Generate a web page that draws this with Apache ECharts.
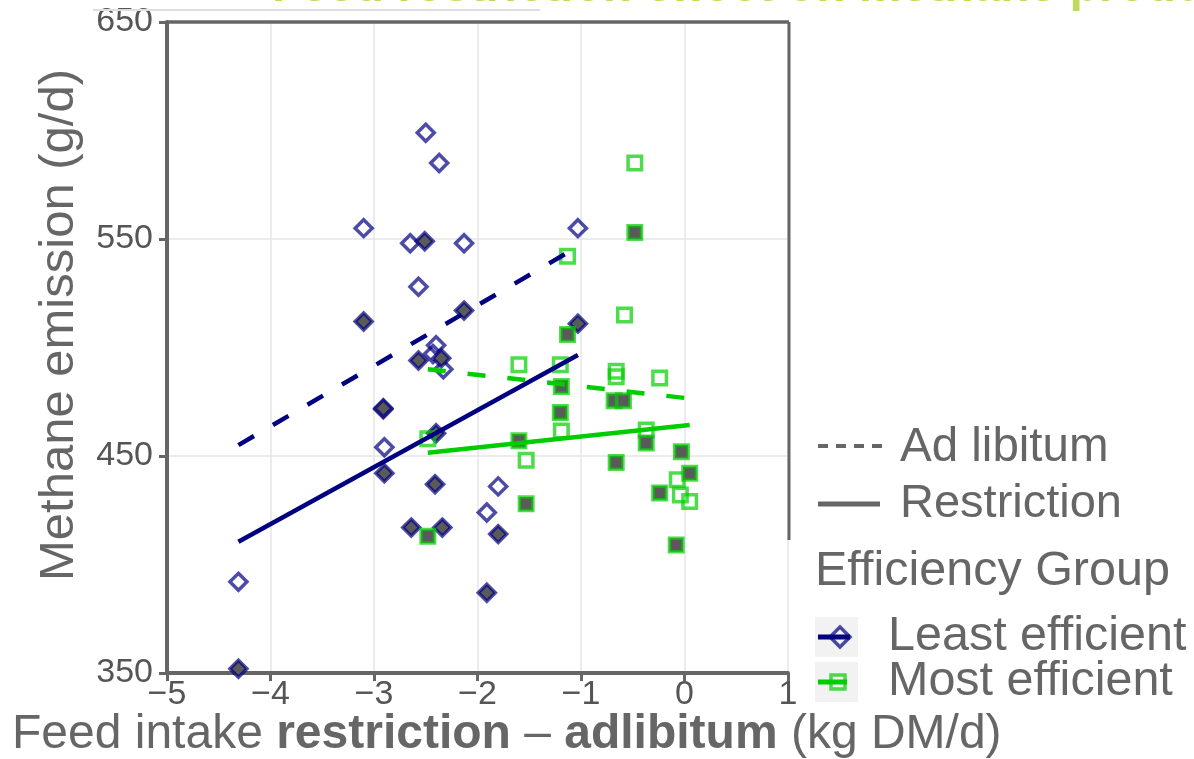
<!DOCTYPE html>
<html>
<head>
<meta charset="utf-8">
<title>Methane emission vs feed intake difference</title>
<script src="https://cdn.jsdelivr.net/npm/echarts@6/dist/echarts.min.js"></script>
<style>
  html, body { margin: 0; padding: 0; background: #ffffff; }
  #chart { width: 1194px; height: 759px; }
</style>
</head>
<body>
<div id="chart"></div>
<script>
// Feed intake difference (restriction − ad libitum, kg DM/d) vs methane emission (g/d)
const xTicks = [-5, -4, -3, -2, -1, 0, 1];
const yTicks = [350, 450, 550, 650];

// Least efficient animals
const leastAdLib = [
  [-2.50, 599], [-2.37, 585], [-3.10, 555], [-1.03, 555], [-2.65, 548],
  [-2.13, 548], [-2.57, 528], [-2.40, 501], [-2.43, 497], [-2.33, 490],
  [-2.91, 471.5], [-2.90, 454], [-1.80, 436], [-1.91, 424], [-4.31, 392]
];
const leastRestr = [
  [-2.51, 549], [-3.10, 512], [-2.13, 517], [-1.03, 511], [-2.57, 494],
  [-2.35, 495], [-2.91, 472], [-2.40, 460.5], [-2.90, 442], [-2.41, 437],
  [-2.64, 417], [-2.34, 417], [-1.80, 414], [-1.91, 387], [-4.31, 352]
];

// Most efficient animals
const mostAdLib = [
  [-0.48, 585], [-1.13, 542], [-0.58, 515], [-1.60, 492], [-1.20, 492],
  [-0.66, 489], [-0.66, 486.5], [-0.24, 486], [-2.48, 458], [-1.53, 448],
  [-1.19, 461.5], [-0.37, 462], [-0.07, 439], [-0.04, 432], [0.05, 429]
];
const mostRestr = [
  [-0.48, 553], [-1.13, 506], [-1.19, 482], [-0.68, 475.5], [-0.59, 475.5],
  [-1.20, 470], [-1.60, 457], [-0.37, 456], [-0.03, 452], [-0.66, 447],
  [0.05, 442], [-0.24, 433], [-1.53, 428], [-2.48, 413], [-0.08, 409]
];

// Linear fits (end points)
const leastAdLibFit = [[-4.31, 455], [-1.03, 546.5]];
const leastRestrFit = [[-4.31, 410.5], [-1.03, 496.5]];
const mostAdLibFit = [[-2.48, 490], [0.05, 476.5]];
const mostRestrFit = [[-2.48, 451.5], [0.05, 464.3]];

const FONT = '"Liberation Sans", Arial, sans-serif';
const NAVY = '#000080';
const NAVY_PT = 'rgba(0,0,128,0.7)';
const GREEN = '#00cd00';
const GREEN_PT = 'rgba(0,205,0,0.7)';
const FILL = '#5a5a5a';
const GREY = '#666666';

const chart = echarts.init(document.getElementById('chart'), null, { renderer: 'canvas' });

function pointSeries(name, data, symbol, size, border, fill, z) {
  return {
    name, type: 'scatter', data, symbol, symbolSize: size, z,
    itemStyle: { color: fill, borderColor: border, borderWidth: 3.5, opacity: 1 },
    emphasis: { disabled: true }, silent: true
  };
}
function fitSeries(name, data, color, dashed) {
  return {
    name, type: 'line', data, symbol: 'none', z: 10, silent: true,
    lineStyle: { color, width: 4.5, type: dashed ? [18, 22] : 'solid', cap: 'butt' }
  };
}

const minus = v => (v < 0 ? '\u2212' + Math.abs(v) : String(v));

function label(text, x, y, size) {
  return { type: 'text', x, y, silent: true, z: 20,
    style: { text, font: size + 'px ' + FONT, fill: GREY, align: 'left', verticalAlign: 'middle' } };
}

chart.setOption({
  animation: false,
  backgroundColor: '#ffffff',
  grid: { left: 167, top: 22, width: 621, height: 651, show: false },
  xAxis: {
    type: 'value', min: xTicks[0], max: xTicks[xTicks.length - 1], interval: 1,
    axisLine: { show: true, onZero: false, lineStyle: { color: GREY, width: 4 } },
    axisTick: { show: true, length: 8, lineStyle: { color: GREY, width: 3 } },
    axisLabel: { fontSize: 34, fontFamily: FONT, color: '#555', margin: 5, formatter: minus },
    splitLine: { show: true, lineStyle: { color: '#e6e6e6', width: 1.5 } }
  },
  yAxis: {
    type: 'value', min: yTicks[0], max: yTicks[yTicks.length - 1], interval: 100,
    axisLine: { show: true, onZero: false, lineStyle: { color: GREY, width: 4 } },
    axisTick: { show: true, length: 8, lineStyle: { color: GREY, width: 3 } },
    axisLabel: { fontSize: 34, fontFamily: FONT, color: '#555', margin: 14 },
    splitLine: { show: true, lineStyle: { color: '#e6e6e6', width: 1.5 } }
  },
  series: [
    pointSeries('Least efficient – Ad libitum', leastAdLib, 'diamond', 17, NAVY_PT, 'rgba(0,0,0,0)', 2),
    pointSeries('Least efficient – Restriction', leastRestr, 'diamond', 17, NAVY_PT, FILL, 3),
    pointSeries('Most efficient – Ad libitum', mostAdLib, 'rect', 13.5, GREEN_PT, 'rgba(0,0,0,0)', 4),
    pointSeries('Most efficient – Restriction', mostRestr, 'rect', 13.5, GREEN_PT, FILL, 5),
    fitSeries('Least efficient fit – Ad libitum', leastAdLibFit, NAVY, true),
    fitSeries('Least efficient fit – Restriction', leastRestrFit, NAVY, false),
    fitSeries('Most efficient fit – Ad libitum', mostAdLibFit, GREEN, true),
    fitSeries('Most efficient fit – Restriction', mostRestrFit, GREEN, false)
  ],
  graphic: [
    // heading (runs off the top edge)
    { type: 'text', x: 272, y: -12, z: 50, silent: true,
      style: { text: 'Feed restriction effect on methane production', font: 'bold 48px ' + FONT,
               fill: '#c0da5c', align: 'left', verticalAlign: 'middle' } },
    { type: 'line', silent: true, z: 1,
      shape: { x1: 93, y1: 10, x2: 540, y2: 10 }, style: { stroke: '#dedede', lineWidth: 2 } },
    // panel frame: top and right edges
    { type: 'line', silent: true, z: 20,
      shape: { x1: 167, y1: 22, x2: 789, y2: 22 }, style: { stroke: GREY, lineWidth: 3.5 } },
    { type: 'line', silent: true, z: 20,
      shape: { x1: 789, y1: 22, x2: 789, y2: 540 }, style: { stroke: GREY, lineWidth: 3 } },
    // axis titles
    { type: 'text', x: 59, y: 325, rotation: Math.PI / 2, silent: true, z: 20,
      style: { text: 'Methane emission (g/d)', font: '49px ' + FONT, fill: GREY,
               align: 'center', verticalAlign: 'middle' } },
    { type: 'text', x: 12, y: 735, silent: true, z: 20,
      style: {
        text: '{n|Feed intake }{b|restriction}{n| \u2013 }{b|adlibitum}{n| (kg DM/d)}',
        align: 'left', verticalAlign: 'middle',
        rich: {
          n: { fontSize: 48, fontFamily: FONT, fill: GREY, color: GREY },
          b: { fontSize: 48, fontFamily: FONT, fontWeight: 'bold', fill: GREY, color: GREY }
        }
      } },
    // legend: trial period
    { type: 'line', silent: true, z: 20,
      shape: { x1: 818, y1: 446, x2: 882, y2: 446 },
      style: { stroke: GREY, lineWidth: 4, lineDash: [10, 8] } },
    label('Ad libitum', 900, 448, 47.5),
    { type: 'line', silent: true, z: 20,
      shape: { x1: 818, y1: 504, x2: 880, y2: 504 },
      style: { stroke: GREY, lineWidth: 5 } },
    label('Restriction', 900, 504, 47),
    // legend: efficiency group
    label('Efficiency Group', 815, 572, 48.5),
    { type: 'rect', silent: true, z: 20,
      shape: { x: 815, y: 617, width: 43, height: 40 }, style: { fill: '#f2f2f2' } },
    { type: 'line', silent: true, z: 21,
      shape: { x1: 818, y1: 637, x2: 850, y2: 637 }, style: { stroke: NAVY, lineWidth: 5 } },
    { type: 'polygon', silent: true, z: 22,
      shape: { points: [[840, 627], [850, 637], [840, 647], [830, 637]] },
      style: { fill: 'none', stroke: NAVY_PT, lineWidth: 3.5 } },
    label('Least efficient', 888, 637, 48.5),
    { type: 'rect', silent: true, z: 20,
      shape: { x: 815, y: 662, width: 43, height: 40 }, style: { fill: '#f2f2f2' } },
    { type: 'line', silent: true, z: 21,
      shape: { x1: 818, y1: 682, x2: 847, y2: 682 }, style: { stroke: GREEN, lineWidth: 5 } },
    { type: 'rect', silent: true, z: 22,
      shape: { x: 831, y: 675, width: 14, height: 14 },
      style: { fill: 'none', stroke: GREEN_PT, lineWidth: 3.5 } },
    label('Most efficient', 888, 682, 48.5)
  ]
});
</script>
</body>
</html>
